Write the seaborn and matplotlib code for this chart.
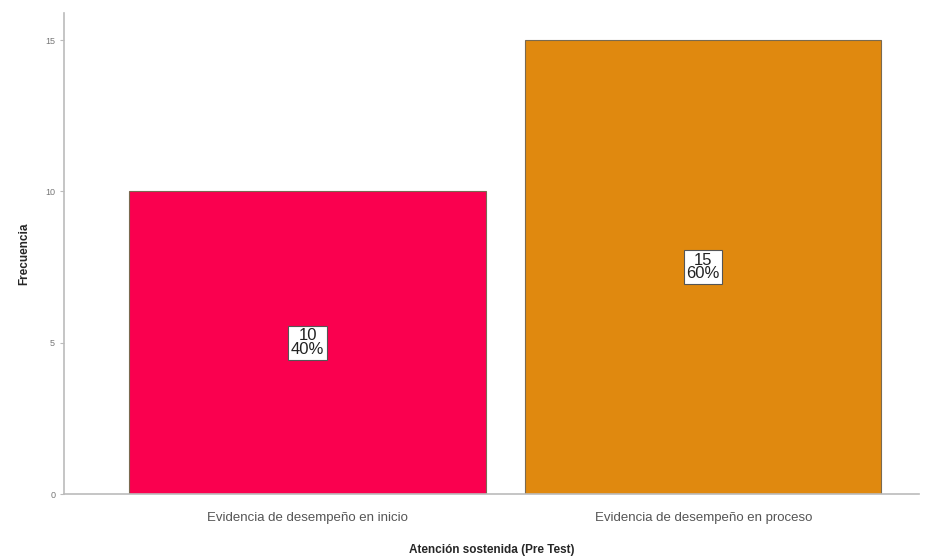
import pandas as pd
import matplotlib
matplotlib.use("Agg")
import matplotlib.pyplot as plt
import seaborn as sns

# datos del gráfico
categorias = ["Evidencia de desempeño en inicio", "Evidencia de desempeño en proceso"]
frecuencias = [10, 15]
porcentajes = ["40%", "60%"]
colores = ["#FA004F", "#E0890F"]

df = pd.DataFrame({"categoria": categorias, "frecuencia": frecuencias})

sns.set_style("white")
plt.rcParams['font.family'] = ['Liberation Sans', 'DejaVu Sans']

fig = plt.figure(figsize=(9.3, 5.57), dpi=100)
ax = fig.add_axes([0.069, 0.113, 0.919, 0.864])

sns.barplot(data=df, x="categoria", y="frecuencia", hue="categoria",
            palette=colores, width=0.9, legend=False, ax=ax, saturation=1,
            edgecolor="#7a6a50", linewidth=0.8)

# etiquetas dentro de las barras
for i, (f, p) in enumerate(zip(frecuencias, porcentajes)):
    ax.text(i, f / 2, f"{f}\n{p}", ha="center", va="center", fontsize=12,
            linespacing=0.9, color="#222222",
            bbox=dict(boxstyle="square,pad=0.15", fc="white", ec="#555555", lw=0.8))

ax.set_xlim(-0.615, 1.545)
ax.set_ylim(0, 15.9)
ax.set_yticks([0, 5, 10, 15])
ax.set_xlabel("Atención sostenida (Pre Test)", fontsize=8.5, fontweight="bold", labelpad=14)
ax.set_ylabel("Frecuencia", fontsize=8.5, fontweight="bold", labelpad=11)
ax.tick_params(axis="y", labelsize=6.5, labelcolor="#777777", length=3, color="#bbbbbb", left=True)
ax.tick_params(axis="x", labelsize=9.5, labelcolor="#555555", length=0, pad=13)

sns.despine(ax=ax)
for s in ["left", "bottom"]:
    ax.spines[s].set_color("#bbbbbb")
    ax.spines[s].set_linewidth(1.2)

plt.savefig("out.png", dpi=100)
